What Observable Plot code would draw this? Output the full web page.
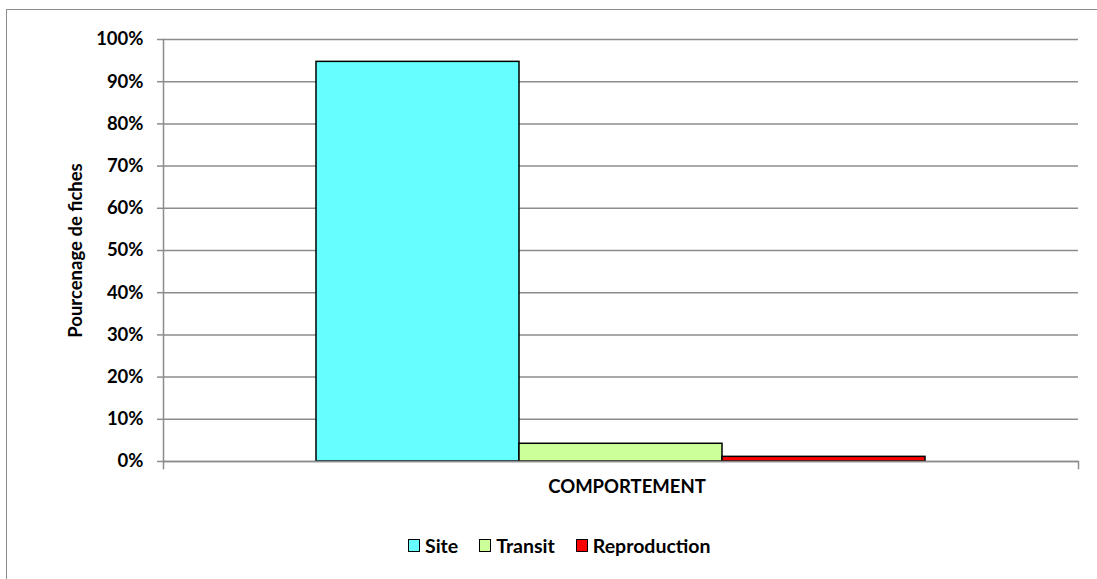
<!DOCTYPE html>
<html>
<head>
<meta charset="utf-8">
<script src="https://cdn.jsdelivr.net/npm/d3@7"></script>
<script src="https://cdn.jsdelivr.net/npm/@observablehq/plot@0.6"></script>
<style>
  html, body { margin: 0; padding: 0; background: #fff; }
  #wrap { position: relative; width: 1097px; height: 579px; overflow: hidden; font-family: Lato, "Open Sans", sans-serif; }
  #border { position: absolute; left: 6px; top: 9px; width: 1200px; height: 700px; border-top: 1.5px solid #8c8c8c; border-left: 1.5px solid #8c8c8c; }
  #chart { position: absolute; left: 0; top: 0; }
  #legend { position: absolute; left: 408px; top: 534px; display: flex; align-items: center; font-weight: 700; font-size: 19.5px; color: #000; }
  .item { display: flex; align-items: center; margin-right: 21px; }
  .sw { width: 10px; height: 11px; border: 1.5px solid #000; margin-right: 5px; box-sizing: content-box; }
</style>
</head>
<body>
<div id="wrap">
  <div id="border"></div>
  <div id="chart"></div>
  <div id="legend"></div>
</div>
<script>
const categories = ["Site", "Transit", "Reproduction"];
const values = [0.947, 0.042, 0.011];
const colors = ["#66FFFF", "#CCFF99", "#FF0000"];
const yTicks = [0, 0.1, 0.2, 0.3, 0.4, 0.5, 0.6, 0.7, 0.8, 0.9, 1.0];
const xTitle = "COMPORTEMENT";
const yTitle = "Pourcenage de fiches";

const data = categories.map((c, i) => ({cat: c, value: values[i]}));
const grid = "#8c8c8c";

const plot = Plot.plot({
  width: 1097,
  height: 579,
  marginLeft: 163,
  marginRight: 19,
  marginTop: 39,
  marginBottom: 118,
  style: {fontFamily: "Lato, 'Open Sans', sans-serif", fontWeight: "700", fontSize: "18px", color: "#000", background: "transparent"},
  x: {domain: categories, paddingInner: 0, paddingOuter: 0.75, axis: null},
  y: {domain: [0, 1], axis: null},
  color: {domain: categories, range: colors},
  marks: [
    Plot.ruleY(yTicks, {stroke: grid, strokeWidth: 1.5}),
    Plot.axisY({ticks: yTicks, tickFormat: d3.format(".0%"), tickSize: 6, tickPadding: 14, stroke: grid, strokeWidth: 1.5, strokeOpacity: 1, fontSize: 18.5, fontWeight: 700, label: yTitle, labelAnchor: "center", labelOffset: 95, labelArrow: "none"}),
    Plot.frame({anchor: "left", stroke: grid, strokeWidth: 1.5, insetBottom: -7}),
    Plot.frame({anchor: "right", stroke: grid, strokeWidth: 1.5, insetTop: 422, insetBottom: -7}),
    Plot.barY(data, {x: "cat", y: "value", fill: "cat", stroke: "#000", strokeWidth: 1.5}),
    Plot.ruleY([0], {stroke: grid, strokeWidth: 1.5}),
    Plot.text([xTitle], {frameAnchor: "bottom", dy: 31, dx: 6, fontSize: 18.5, fontWeight: 700, fill: "#000"})
  ]
});
document.getElementById("chart").appendChild(plot);

const legend = document.getElementById("legend");
categories.forEach((c, i) => {
  const item = document.createElement("div");
  item.className = "item";
  const sw = document.createElement("span");
  sw.className = "sw";
  sw.style.background = colors[i];
  const t = document.createElement("span");
  t.textContent = c;
  item.appendChild(sw);
  item.appendChild(t);
  legend.appendChild(item);
});
</script>
</body>
</html>
